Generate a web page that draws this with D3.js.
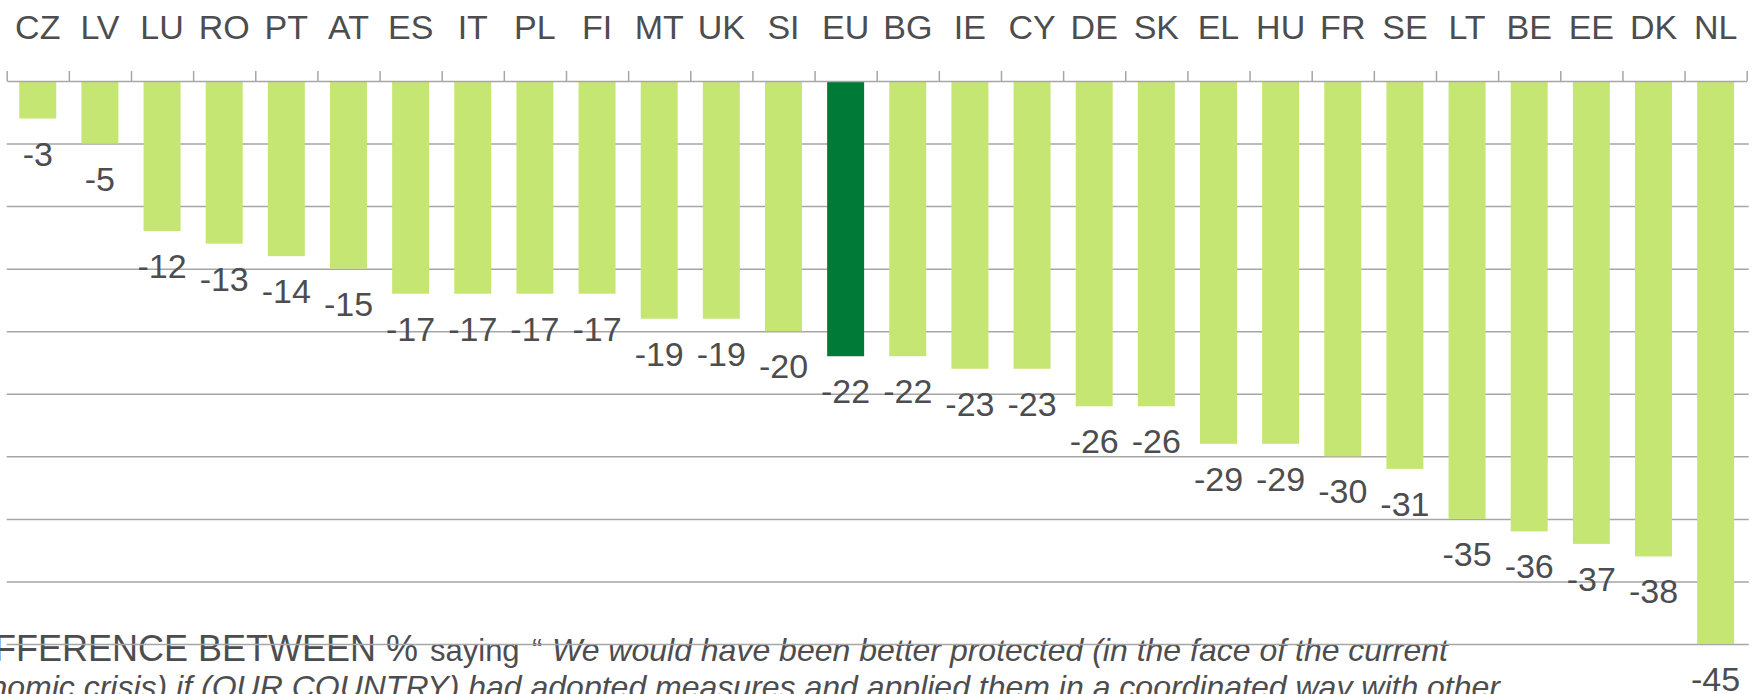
<!DOCTYPE html>
<html>
<head>
<meta charset="utf-8">
<script src="https://cdn.jsdelivr.net/npm/d3@7"></script>
<style>
  html, body { margin: 0; padding: 0; background: #fff; overflow: hidden; }
  svg text { font-family: "Liberation Sans", Arial, sans-serif; fill: #4d4d4f; }
</style>
</head>
<body>
<svg id="chart" width="1758" height="694"></svg>
<script>
const countries = ["CZ", "LV", "LU", "RO", "PT", "AT", "ES", "IT", "PL", "FI", "MT", "UK", "SI", "EU",
    "BG", "IE", "CY", "DE", "SK", "EL", "HU", "FR", "SE", "LT", "BE", "EE", "DK", "NL"];
const values = [-3, -5, -12, -13, -14, -15, -17, -17, -17, -17, -19, -19, -20, -22,
    -22, -23, -23, -26, -26, -29, -29, -30, -31, -35, -36, -37, -38, -45];
const gridValues = [-5, -10, -15, -20, -25, -30, -35, -40, -45];
const highlight = "EU";

const LIGHT = "#c5e672";
const DARK = "#007a37";
const GRID = "#a6a6a6";

const svg = d3.select("#chart");
const left = 6.7, right = 1746.7;

const x = d3.scaleBand()
    .domain(countries)
    .range([left, right])
    .paddingInner(0.405)
    .paddingOuter(0.2025);

const y = d3.scaleLinear()
    .domain([0, -45])
    .range([81, 644]);

// footnote text, clipped at the edges like the original slide
const note = svg.append("g").attr("class", "note");
note.append("text")
    .attr("x", 418).attr("y", 661)
    .attr("text-anchor", "end")
    .style("font-size", "36px")
    .text("DIFFERENCE BETWEEN %");
note.append("text")
    .attr("x", 430).attr("y", 661)
    .style("font-size", "31px")
    .text("saying");
note.append("text")
    .attr("x", 532).attr("y", 661)
    .style("font-size", "31px")
    .text("\u201C");
note.append("text")
    .attr("x", 552).attr("y", 661)
    .style("font-size", "32px")
    .style("font-style", "italic")
    .text("We would have been better protected (in the face of the current");
note.append("text")
    .attr("x", 1500).attr("y", 698)
    .attr("text-anchor", "end")
    .style("font-size", "32px")
    .style("font-style", "italic")
    .text("economic crisis) if (OUR COUNTRY) had adopted measures and applied them in a coordinated way with other");

// gridlines
svg.append("g")
    .attr("class", "grid")
    .attr("transform", "translate(" + left + ",0)")
    .call(d3.axisLeft(y).tickValues(gridValues).tickSize(-(right - left + 2)).tickFormat(""))
    .call(g => g.select(".domain").remove())
    .call(g => g.selectAll("line").attr("stroke", GRID).attr("stroke-width", 1.5));

// bars
svg.selectAll("rect.bar")
    .data(countries)
    .enter()
    .append("rect")
    .attr("class", "bar")
    .attr("x", d => x(d))
    .attr("y", y(0))
    .attr("width", x.bandwidth())
    .attr("height", (d, i) => y(values[i]) - y(0))
    .attr("fill", d => d === highlight ? DARK : LIGHT);

// zero axis with ticks between categories
const edges = d3.scaleLinear().domain([0, countries.length]).range([left, right]);
svg.append("g")
    .attr("class", "x-axis")
    .attr("transform", "translate(0," + y(0) + ")")
    .call(d3.axisTop(edges).tickValues(d3.range(countries.length + 1)).tickSize(10).tickSizeOuter(0).tickFormat(""))
    .call(g => g.select(".domain").attr("stroke", GRID).attr("stroke-width", 1.5))
    .call(g => g.selectAll(".tick line").attr("stroke", GRID).attr("stroke-width", 1.5));

// category labels
svg.append("g")
    .attr("class", "labels")
    .attr("transform", "translate(0,39)")
    .call(d3.axisTop(x).tickSize(0).tickPadding(0))
    .call(g => g.select(".domain").remove())
    .call(g => g.selectAll("text")
        .style("font-size", "34px")
        .attr("fill", "#4d4d4f")
        .attr("dy", 0));

// value labels
svg.selectAll("text.value")
    .data(countries)
    .enter()
    .append("text")
    .attr("class", "value")
    .attr("x", d => x(d) + x.bandwidth() / 2)
    .attr("y", (d, i) => y(values[i]) + 47)
    .attr("text-anchor", "middle")
    .style("font-size", "34px")
    .text((d, i) => values[i]);
</script>
</body>
</html>
